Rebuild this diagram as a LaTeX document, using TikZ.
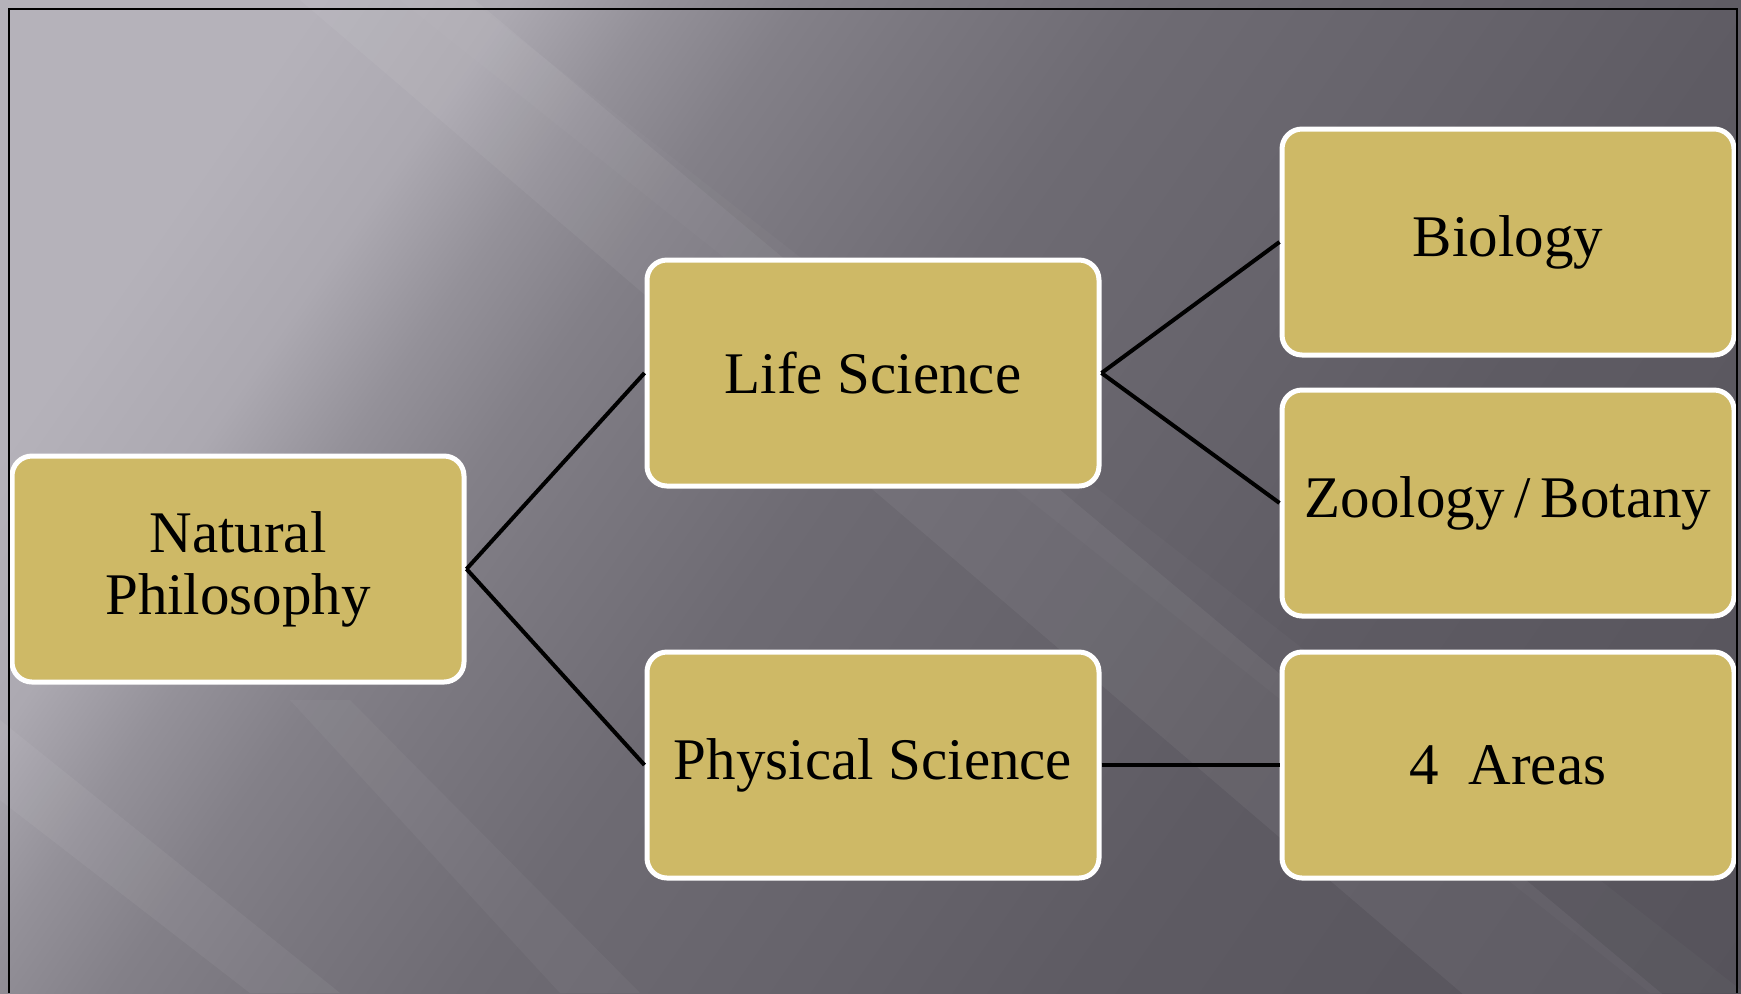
\documentclass[tikz,border=0pt]{standalone}
\usepackage{fontspec}
\setmainfont{Liberation Serif}
\definecolor{bg0}{RGB}{181,178,186}
\definecolor{bg1}{RGB}{172,169,177}
\definecolor{bg2}{RGB}{148,145,153}
\definecolor{bg3}{RGB}{131,128,136}
\definecolor{bg4}{RGB}{123,120,128}
\definecolor{bg5}{RGB}{110,107,115}
\definecolor{bg6}{RGB}{101,98,106}
\definecolor{bg7}{RGB}{94,91,99}
\definecolor{bg8}{RGB}{86,83,91}
\definecolor{boxfill}{RGB}{206,185,102}
\pgfdeclarehorizontalshading{bgshade}{100bp}{color(0bp)=(bg0); color(25bp)=(bg0); color(31.5bp)=(bg0); color(35.5bp)=(bg1); color(38.5bp)=(bg2); color(41.5bp)=(bg3); color(44bp)=(bg4); color(48.8bp)=(bg5); color(56.3bp)=(bg6); color(61.3bp)=(bg7); color(75bp)=(bg8); color(100bp)=(bg8)}
\begin{document}
\begin{tikzpicture}[x=0.5pt,y=-0.5pt,
  box/.style={draw=white, line width=2.5pt, fill=boxfill, rounded corners=10pt,
    minimum width=226pt, minimum height=113pt, inner sep=0pt, align=center,
    font=\fontsize{29.5}{31}\selectfont, text=black},
  link/.style={draw=black, line width=2pt},
  glow/.style={fill=white, draw=none}]
\useasboundingbox (0,0) rectangle (1741,993);
\begin{scope}
\clip (0,0) rectangle (1741,993);
\shade[shading=bgshade, shading angle=-35] (-127.5,-501.5) rectangle (1868.5,1494.5);
% diagonal light streaks
\fill[glow, fill opacity=0.05] (300,0) -- (475,0) -- (1741,1060) -- (1540,1060) -- cycle;
\fill[glow, fill opacity=0.025] (400,0) -- (470,0) -- (1741,990) -- (1741,993) -- (1650,993) -- cycle;
\fill[glow, fill opacity=0.05] (0,720) -- (0,800) -- (250,993) -- (340,993) -- cycle;
\fill[glow, fill opacity=0.04] (290,700) -- (350,700) -- (640,993) -- (560,993) -- cycle;
\end{scope}
% boxes
\node[box] (np) at (238,569) {Natural\\Philosophy};
\node[box] (ls) at (873,373) {Life Science};
\node[box] (ps) at (873,765) {Physical Science};
\node[box] (bio) at (1508,242) {Biology};
\node[box] (zb) at (1508,503) {Zoology\,/\,Botany};
\node[box] (ar) at (1508,765) {4~~Areas};
% connectors
\draw[link] (np.east) -- (ls.west);
\draw[link] (np.east) -- (ps.west);
\draw[link] (ls.east) -- (bio.west);
\draw[link] (ls.east) -- (zb.west);
\draw[link] (ps.east) -- (ar.west);
% frame
\draw[black, line width=1.2pt] (9,993) -- (9,9) -- (1737,9) -- (1737,993);
\end{tikzpicture}
\end{document}
